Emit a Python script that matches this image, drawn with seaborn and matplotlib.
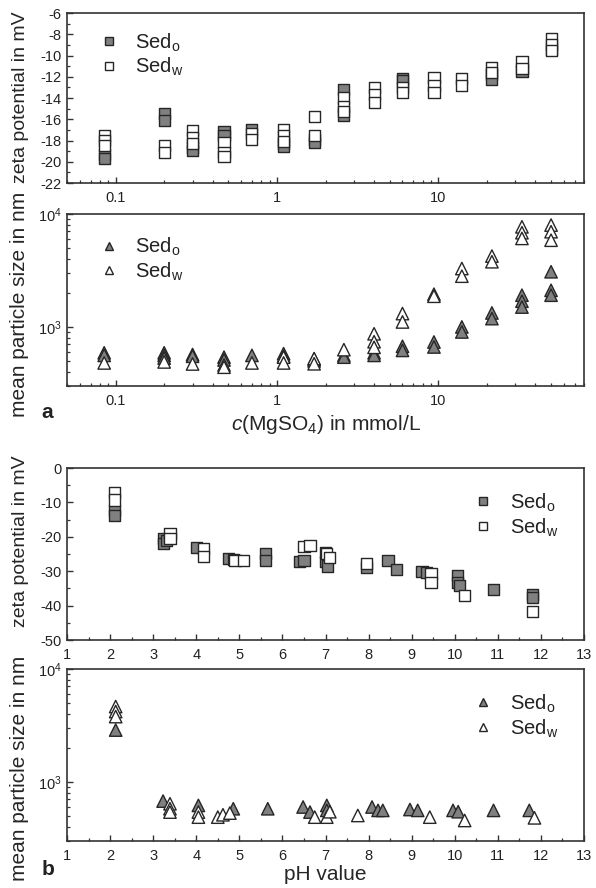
import numpy as np
import pandas as pd
import matplotlib
matplotlib.use("Agg")
import matplotlib.pyplot as plt
import seaborn as sns
from matplotlib.lines import Line2D
from matplotlib.ticker import FixedLocator, MultipleLocator, FuncFormatter, LogLocator, NullFormatter

# ---------------- data ----------------
# (a) zeta potential vs MgSO4 concentration (mmol/L)
mg_zeta_o_x = [0.085, 0.085, 0.2, 0.2, 0.3, 0.3, 0.47, 0.47, 0.7, 1.1, 1.1, 1.7, 1.7,
               2.6, 2.6, 6.0, 6.0, 21.5, 21.5, 33, 50]
mg_zeta_o_y = [-19.3, -19.7, -15.5, -16.1, -18.7, -18.9, -17.2, -17.5, -17.0, -18.3, -18.6,
               -17.9, -18.2, -13.2, -15.6, -12.2, -12.4, -11.8, -12.3, -11.5, -9.4]
mg_zeta_w_x = [0.085, 0.085, 0.085, 0.2, 0.2, 0.3, 0.3, 0.3, 0.47, 0.47, 0.47, 0.7, 0.7,
               1.1, 1.1, 1.1, 1.7, 1.7, 2.6, 2.6, 2.6, 4.0, 4.0, 4.0, 6.0, 6.0,
               9.4, 9.4, 9.4, 14, 14, 21.5, 21.5, 33, 33, 50, 50, 50]
mg_zeta_w_y = [-17.5, -18.0, -18.5, -18.5, -19.1, -17.1, -17.7, -18.3, -18.2, -19.1, -19.5,
               -17.3, -17.9, -17.0, -17.5, -18.1, -15.7, -17.5, -14.0, -14.8, -15.3,
               -13.0, -13.7, -14.4, -13.0, -13.5, -12.1, -12.8, -13.5, -12.2, -12.8,
               -11.1, -11.6, -10.6, -11.2, -8.4, -9.0, -9.5]

# (a) mean particle size (nm) vs MgSO4 concentration
mg_size_o_x = [0.085, 0.085, 0.2, 0.2, 0.2, 0.3, 0.3, 0.47, 0.47, 0.7, 1.1, 1.1, 1.7, 1.7,
               2.6, 2.6, 4.0, 4.0, 6.0, 6.0, 9.4, 9.4, 14, 14, 21.5, 21.5, 33, 33, 33,
               50, 50, 50]
mg_size_o_y = [590, 560, 590, 560, 530, 570, 550, 540, 510, 560, 580, 550, 520, 500,
               560, 540, 590, 560, 674, 620, 736, 665, 1000, 903, 1330, 1185, 1910, 1690, 1500,
               3080, 2110, 1910]
mg_size_w_x = [0.085, 0.2, 0.3, 0.47, 0.47, 0.7, 1.1, 1.1, 1.7, 1.7, 2.6, 4.0, 4.0, 4.0,
               6.0, 6.0, 9.4, 9.4, 14, 14, 21.5, 21.5, 33, 33, 33, 50, 50, 50]
mg_size_w_y = [480, 490, 470, 460, 440, 480, 540, 480, 524, 472, 629, 870, 740, 660,
               1313, 1107, 1950, 1870, 3290, 2815, 4240, 3780, 7700, 6830, 6080,
               7980, 6970, 5860]

# (b) zeta potential vs pH
ph_zeta_o_x = [2.11, 2.11, 3.23, 3.23, 3.3, 4.0, 4.74, 4.86, 5.6, 5.6, 6.4, 6.5,
               7.0, 7.0, 7.05, 7.96, 8.45, 8.65, 9.24, 9.35, 10.07, 10.07, 10.1, 10.9,
               11.8, 11.8]
ph_zeta_o_y = [-12.4, -13.7, -20.5, -21.9, -21.0, -23.1, -26.3, -26.5, -24.9, -26.8, -27.3, -27.0,
               -24.5, -27.3, -28.5, -28.8, -27.0, -29.5, -30.2, -30.5, -31.3, -33.2, -34.2, -35.2,
               -36.7, -37.6]
ph_zeta_w_x = [2.11, 2.11, 3.39, 3.39, 4.16, 4.16, 4.9, 5.1, 6.5, 6.64, 7.03, 7.1,
               7.96, 9.45, 9.45, 10.23, 11.8]
ph_zeta_w_y = [-7.1, -9.3, -19.0, -20.5, -23.4, -25.7, -27.0, -27.0, -22.7, -22.4, -24.9, -26.0,
               -27.8, -30.7, -33.2, -37.1, -41.8]

# (b) mean particle size (nm) vs pH
ph_size_o_x = [2.13, 3.23, 4.05, 4.86, 5.66, 6.48, 6.64, 7.03, 7.03, 8.08, 8.22, 8.33,
               8.96, 9.14, 9.96, 10.08, 10.9, 11.73]
ph_size_o_y = [2880, 677, 620, 579, 579, 600, 541, 620, 560, 600, 560, 560,
               570, 560, 560, 545, 560, 560]
ph_size_w_x = [2.13, 2.13, 2.13, 3.39, 3.39, 3.39, 4.05, 4.05, 4.5, 4.62, 4.78, 6.75,
               7.03, 7.1, 7.75, 9.42, 10.23, 11.85]
ph_size_w_y = [4650, 4200, 3790, 641, 579, 541, 541, 488, 488, 512, 530, 488,
               488, 545, 505, 488, 456, 481]

series_names = ["Sed$_\\mathregular{o}$", "Sed$_\\mathregular{w}$"]

# ---------------- style ----------------
sns.set_style("ticks")
plt.rcParams["font.family"] = ["Liberation Sans", "DejaVu Sans"]
plt.rcParams["mathtext.fontset"] = "custom"
plt.rcParams["mathtext.rm"] = "Liberation Sans"
plt.rcParams["mathtext.it"] = "Liberation Sans:italic"
plt.rcParams["mathtext.bf"] = "Liberation Sans:bold"
plt.rcParams["axes.unicode_minus"] = False
plt.rcParams["text.color"] = "#222222"
plt.rcParams["axes.edgecolor"] = "#333333"
plt.rcParams["axes.linewidth"] = 1.2
plt.rcParams["xtick.color"] = "#333333"
plt.rcParams["ytick.color"] = "#333333"
plt.rcParams["xtick.labelcolor"] = "#222222"
plt.rcParams["ytick.labelcolor"] = "#222222"

FILL = {series_names[0]: "#808080", series_names[1]: "#ffffff"}
EDGE = "#262626"
TICK_FS = 10.5
ZETA_FS = 14
SIZE_FS = 15
XLABEL_FS = 15
LEGEND_FS = 14.5

fig = plt.figure(figsize=(5.96, 8.88), dpi=100)
L, W = 67 / 596, 517 / 596
# y-label anchor (right edge of the rotated text) in axes coordinates
LABEL_X = (29 - 67) / 517


def axes_px(top, bottom):
    return fig.add_axes([L, 1 - bottom / 888, W, (bottom - top) / 888])


def scatter(ax, xo, yo, xw, yw, marker, s):
    df = pd.DataFrame({
        "x": list(xo) + list(xw),
        "y": list(yo) + list(yw),
        "sample": [series_names[0]] * len(xo) + [series_names[1]] * len(xw),
    })
    sns.scatterplot(data=df, x="x", y="y", hue="sample", palette=FILL, marker=marker,
                    s=s, edgecolor=EDGE, linewidth=1.0, legend=False, ax=ax, zorder=3)
    ax.set_xlabel("")
    ax.set_ylabel("")


def legend(ax, marker, loc, anchor):
    handles = [Line2D([], [], ls="none", marker=marker, markersize=6,
                      markerfacecolor=FILL[n], markeredgecolor=EDGE, markeredgewidth=1.0)
               for n in series_names]
    ax.legend(handles, series_names, loc=loc, bbox_to_anchor=anchor, frameon=False,
              fontsize=LEGEND_FS, handletextpad=0.5, handlelength=1.6,
              labelspacing=0.12, borderaxespad=0)


def style(ax):
    for sp in ax.spines.values():
        sp.set_visible(True)
    ax.tick_params(which="both", direction="in", top=False, right=False, labelsize=TICK_FS)
    ax.tick_params(axis="x", which="both", pad=6)
    ax.tick_params(axis="y", which="both", pad=4)
    ax.tick_params(which="major", length=4.5, width=1.0)
    ax.tick_params(which="minor", length=2.5, width=0.9)


fmt_plain = FuncFormatter(lambda v, _: f"{v:g}")

# ---- (a) zeta potential ----
ax1 = axes_px(13, 183)
scatter(ax1, mg_zeta_o_x, mg_zeta_o_y, mg_zeta_w_x, mg_zeta_w_y, "s", 64)
ax1.set_xscale("log")
ax1.set_xlim(0.05, 80)
ax1.set_ylim(-22, -6)
ax1.yaxis.set_major_locator(MultipleLocator(2))
ax1.yaxis.set_minor_locator(MultipleLocator(1))
ax1.xaxis.set_major_locator(FixedLocator([0.1, 1, 10]))
ax1.xaxis.set_minor_locator(LogLocator(base=10, subs=np.arange(2, 10)))
ax1.xaxis.set_major_formatter(fmt_plain)
ax1.xaxis.set_minor_formatter(NullFormatter())
ax1.set_ylabel("zeta potential in mV", fontsize=ZETA_FS)
ax1.yaxis.set_label_coords(LABEL_X, 0.503)
style(ax1)
legend(ax1, "s", "upper left", (0.035, 0.94))

# ---- (a) particle size ----
ax2 = axes_px(214, 386)
scatter(ax2, mg_size_o_x, mg_size_o_y, mg_size_w_x, mg_size_w_y, "^", 80)
ax2.set_xscale("log")
ax2.set_yscale("log")
ax2.set_xlim(0.05, 80)
ax2.set_ylim(300, 10000)
ax2.xaxis.set_major_locator(FixedLocator([0.1, 1, 10]))
ax2.xaxis.set_minor_locator(LogLocator(base=10, subs=np.arange(2, 10)))
ax2.xaxis.set_major_formatter(fmt_plain)
ax2.xaxis.set_minor_formatter(NullFormatter())
ax2.yaxis.set_major_locator(FixedLocator([1000, 10000]))
ax2.yaxis.set_minor_locator(LogLocator(base=10, subs=np.arange(2, 10)))
ax2.yaxis.set_minor_formatter(NullFormatter())
ax2.set_ylabel("mean particle size in nm", fontsize=SIZE_FS)
ax2.yaxis.set_label_coords(LABEL_X, 0.477)
ax2.set_xlabel("$\\mathit{c}$(MgSO$_\\mathregular{4}$) in mmol/L", fontsize=XLABEL_FS, labelpad=3)
style(ax2)
legend(ax2, "^", "upper left", (0.035, 0.92))

# ---- (b) zeta potential ----
ax3 = axes_px(468, 640)
scatter(ax3, ph_zeta_o_x, ph_zeta_o_y, ph_zeta_w_x, ph_zeta_w_y, "s", 64)
ax3.set_xlim(1, 13)
ax3.set_ylim(-50, 0)
ax3.xaxis.set_major_locator(MultipleLocator(1))
ax3.xaxis.set_minor_locator(MultipleLocator(0.5))
ax3.yaxis.set_major_locator(MultipleLocator(10))
ax3.yaxis.set_minor_locator(MultipleLocator(5))
ax3.set_ylabel("zeta potential in mV", fontsize=ZETA_FS)
ax3.yaxis.set_label_coords(LABEL_X, 0.576)
style(ax3)
legend(ax3, "s", "upper right", (0.965, 0.91))

# ---- (b) particle size ----
ax4 = axes_px(669, 841)
scatter(ax4, ph_size_o_x, ph_size_o_y, ph_size_w_x, ph_size_w_y, "^", 80)
ax4.set_yscale("log")
ax4.set_xlim(1, 13)
ax4.set_ylim(300, 10000)
ax4.xaxis.set_major_locator(MultipleLocator(1))
ax4.xaxis.set_minor_locator(MultipleLocator(0.5))
ax4.yaxis.set_major_locator(FixedLocator([1000, 10000]))
ax4.yaxis.set_minor_locator(LogLocator(base=10, subs=np.arange(2, 10)))
ax4.yaxis.set_minor_formatter(NullFormatter())
ax4.set_ylabel("mean particle size in nm", fontsize=SIZE_FS)
ax4.yaxis.set_label_coords(LABEL_X, 0.424)
ax4.set_xlabel("pH value", fontsize=XLABEL_FS, labelpad=1)
style(ax4)
legend(ax4, "^", "upper right", (0.965, 0.91))

fig.text(47 / 596, 1 - 412 / 888, "a", fontsize=15, fontweight="bold", ha="center", va="center")
fig.text(48 / 596, 1 - 869 / 888, "b", fontsize=15, fontweight="bold", ha="center", va="center")

fig.savefig("out.png", dpi=100, facecolor="white")
